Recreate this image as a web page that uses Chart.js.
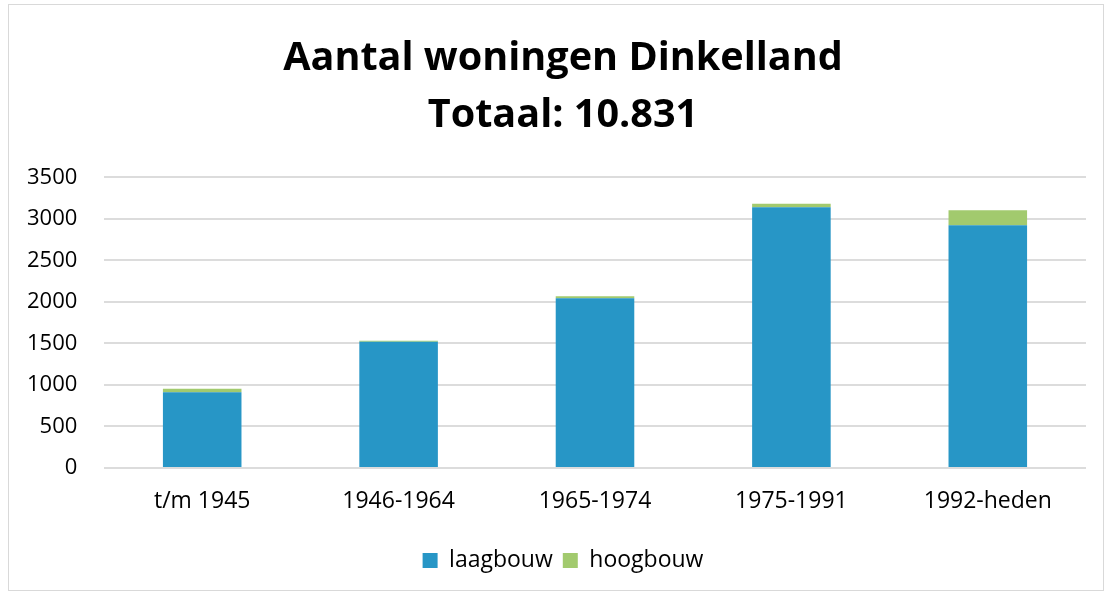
<!DOCTYPE html>
<html><head><meta charset="utf-8">
<script src="https://cdn.jsdelivr.net/npm/chart.js@4/dist/chart.umd.min.js"></script>
<style>
html,body{margin:0;padding:0;background:#fff;}
#wrap{position:absolute;left:8px;top:4px;width:1096px;height:587px;border:1px solid #d9d9d9;box-sizing:border-box;}
</style></head><body>
<div id="wrap"><canvas id="c"></canvas></div>
<script>
const categories = ["t/m 1945","1946-1964","1965-1974","1975-1991","1992-heden"];
const laagbouw = [914, 1521, 2044, 3142, 2925];
const hoogbouw = [40, 12, 24, 41, 181];
const titleLines = ["Aantal woningen Dinkelland","Totaal: 10.831"];
const yTickStep = 500;
const font = "'Open Sans', 'Liberation Sans', sans-serif";
new Chart(document.getElementById('c'), {
  type: 'bar',
  data: {
    labels: categories,
    datasets: [
      {label:'laagbouw', data: laagbouw, backgroundColor:'#2796C6', barPercentage:0.8, categoryPercentage:0.5},
      {label:'hoogbouw', data: hoogbouw, backgroundColor:'#A2CA6E', barPercentage:0.8, categoryPercentage:0.5}
    ]
  },
  options: {
    responsive:true, maintainAspectRatio:false, animation:false,
    layout:{padding:{left:31,right:17,top:26,bottom:8}},
    plugins:{
      title:{display:true, text:titleLines, color:'#000', font:{family:font, size:39.6, weight:'bold', lineHeight:1.42}, padding:{top:0,bottom:34}},
      legend:{position:'bottom', labels:{color:'#000', font:{family:font, size:23}, boxWidth:15, boxHeight:15, padding:10}},
      tooltip:{enabled:false}
    },
    scales:{
      x:{stacked:true, grid:{display:false}, border:{display:false},
         ticks:{color:'#000', font:{family:font, size:23}, padding:12},
         afterFit:(s)=>{s.height = 71;}},
      y:{stacked:true, min:0, max:3500,
         ticks:{stepSize:yTickStep, color:'#000', font:{family:font, size:22}, mirror:true, crossAlign:'far', padding:-77, callback:(v)=>String(v)},
         grid:{color:'#dcdcdc', lineWidth:2, drawTicks:false}, border:{display:false},
         afterFit:(s)=>{s.width = 64;}}
    }
  }
});
</script></body></html>
